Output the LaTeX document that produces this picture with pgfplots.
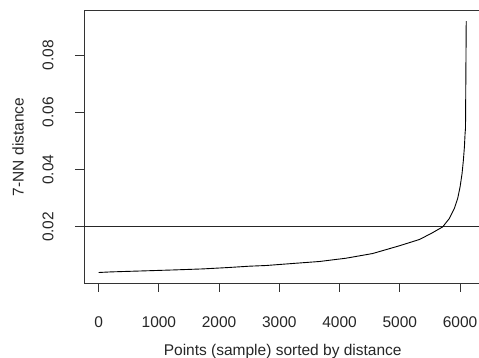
\documentclass[border=0pt]{standalone}
\usepackage{fontspec}
\setmainfont{Liberation Sans}
\usepackage{pgfplots}
\pgfplotsset{compat=1.18}
\newcommand{\lblfont}{\fontsize{15.5}{18}\selectfont}
\begin{document}
\begin{tikzpicture}
\useasboundingbox (-84pt,-75pt) rectangle (395pt,283pt);
\clip (-84pt,-75pt) rectangle (395pt,283pt);
\begin{axis}[
  at={(0pt,0pt)}, anchor=south west,
  scale only axis,
  width=397.4pt, height=272.2pt,
  xmin=-243, xmax=6354,
  ymin=0.0004, ymax=0.0955,
  axis line style={line width=0.9pt, black!80},
  xtick={0,1000,2000,3000,4000,5000,6000},
  ytick={0.02,0.04,0.06,0.08},
  yticklabels={0.02,0.04,0.06,0.08},
  scaled y ticks=false,
  xticklabels={0,1000,2000,3000,4000,5000,6000},
  tick align=outside,
  major tick length=9pt,
  tick style={line width=0.9pt, black!80},
  xtick pos=bottom, ytick pos=left,
  xticklabel style={anchor=center, yshift=-30pt, font=\lblfont, text=black!85},
  yticklabel style={xshift=-27pt, anchor=center, rotate=90, font=\lblfont, text=black!85},
  xlabel={Points (sample) sorted by distance},
  ylabel={7-NN distance},
  every axis y label/.style={at={(axis description cs:0,0.5)}, anchor=center, xshift=-66pt, rotate=90, font=\lblfont, text=black!85},
  every axis x label/.style={at={(axis description cs:0.5,0)}, anchor=center, yshift=-68pt, font=\lblfont, text=black!85},
]
\addplot[black!85, line width=0.9pt] coordinates {
(-400,0.02) (7000,0.02)
};
\addplot[black, line width=0.9pt] coordinates {
(1,0.00407) (206,0.00428) (730,0.00462) (1257,0.00497) (1727,0.00532)
(2158,0.00581) (2502,0.00627) (2779,0.00651) (3216,0.00721) (3664,0.00791)
(4107,0.00906) (4549,0.01070) (4992,0.01340) (5324,0.01559) (5519,0.01769)
(5711,0.0200) (5822,0.02294) (5905,0.02643) (5960,0.02992) (6000,0.03398)
(6033,0.03866) (6055,0.04331) (6072,0.04796) (6083,0.05264) (6090,0.0545)
(6102,0.0919)
};
\end{axis}
\end{tikzpicture}
\end{document}
